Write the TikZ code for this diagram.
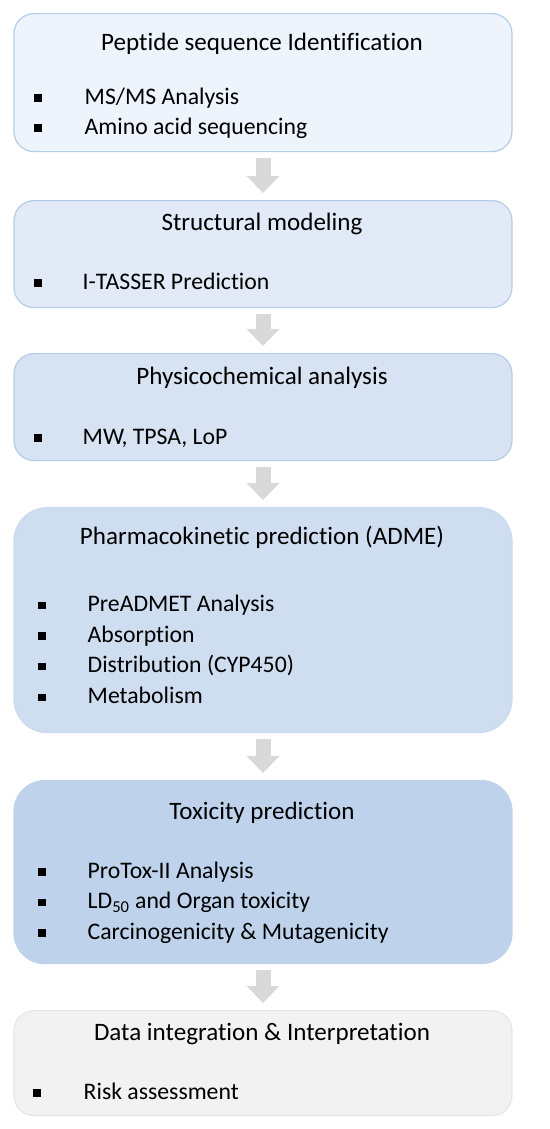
\documentclass[tikz,border=0pt]{standalone}
\usepackage{fontspec}
\setmainfont{Carlito}[Ligatures=NoCommon]
\usetikzlibrary{arrows.meta}
\definecolor{fillA}{HTML}{EEF4FB}
\definecolor{fillB}{HTML}{E1EAF6}
\definecolor{fillC}{HTML}{D7E3F3}
\definecolor{fillD}{HTML}{CEDDF0}
\definecolor{fillE}{HTML}{BED3EB}
\definecolor{fillF}{HTML}{F2F2F2}
\definecolor{lineblue}{HTML}{B5CCE7}
\definecolor{arrowgray}{HTML}{D9D9D9}

\begin{document}
\begin{tikzpicture}[x=0.75pt,y=-0.75pt,font=\fontsize{17.8}{21}\selectfont,
box/.style={rounded corners=15pt, minimum width=373.5pt, anchor=north, inner sep=0pt, line width=0.9pt},
title/.style={anchor=mid, font=\fontsize{18.8}{22}\selectfont},
item/.style={anchor=mid west},
sq/.style={fill=black, minimum size=5.5pt, inner sep=0pt},
flow/.style={draw=arrowgray, line width=11.25pt, shorten <=4.5pt, shorten >=5.25pt,
    -{Triangle[width=24pt,length=12.75pt]}}]
\useasboundingbox (0,0) rectangle (550,1129);

% the six stages
\node[box, fill=fillA, draw=lineblue, minimum height=103.5pt] (ident) at (263,13) {};
\node[box, fill=fillB, draw=lineblue, minimum height=80.25pt] (struct) at (263,200) {};
\node[box, fill=fillC, draw=lineblue, minimum height=80.25pt] (physchem) at (263,353) {};
\node[box, fill=fillD, draw=fillD!90!lineblue, rounded corners=25pt, minimum height=168.75pt] (adme) at (263,507) {};
\node[box, fill=fillE, draw=fillE, rounded corners=23pt, minimum height=137.25pt] (tox) at (263,780) {};
\node[box, fill=fillF, draw=fillF!95!black, minimum height=78.75pt] (integ) at (263,1010) {};

% titles
\node[title] (ident-t) at (262,47) {Peptide sequence Identification};
\node[title] (struct-t) at (262,227) {Structural modeling};
\node[title] (physchem-t) at (262,381) {Physicochemical analysis};
\node[title] (adme-t) at (262,541) {Pharmacokinetic prediction (ADME)};
\node[title] (tox-t) at (262,816) {Toxicity prediction};
\node[title] (integ-t) at (262,1037) {Data integration \& Interpretation};

% bullet lists
\foreach \t [count=\i] in {MS/MS Analysis, Amino acid sequencing} {
  \node[sq] (ident-s\i) at (38,68+30*\i) {};
  \node[item] (ident-i\i) at (80,71+30*\i) {\t};
}
\node[sq] (struct-s1) at (38,283) {};
\node[item] (struct-i1) at (78,286) {I-TASSER Prediction};
\node[sq] (physchem-s1) at (38,438) {};
\node[item] (physchem-i1) at (78,441) {MW, TPSA, LoP};
\foreach \t [count=\i] in {PreADMET Analysis, Absorption, Distribution (CYP450), Metabolism} {
  \node[sq] (adme-s\i) at (42,574.5+30.7*\i) {};
  \node[item] (adme-i\i) at (83,577.5+30.7*\i) {\t};
}
\foreach \t [count=\i] in {ProTox-II Analysis, LD\textsubscript{50} and Organ toxicity, Carcinogenicity \& Mutagenicity} {
  \node[sq] (tox-s\i) at (42,841.5+30.5*\i) {};
  \node[item] (tox-i\i) at (83,844.5+30.5*\i) {\t};
}
\node[sq] (integ-s1) at (37,1093) {};
\node[item] (integ-i1) at (79,1096) {Risk assessment};

% arrows between stages
\draw[flow] (ident) -- (struct);
\draw[flow] (struct) -- (physchem);
\draw[flow] (physchem) -- (adme);
\draw[flow] (adme) -- (tox);
\draw[flow] (tox) -- (integ);
\end{tikzpicture}
\end{document}
